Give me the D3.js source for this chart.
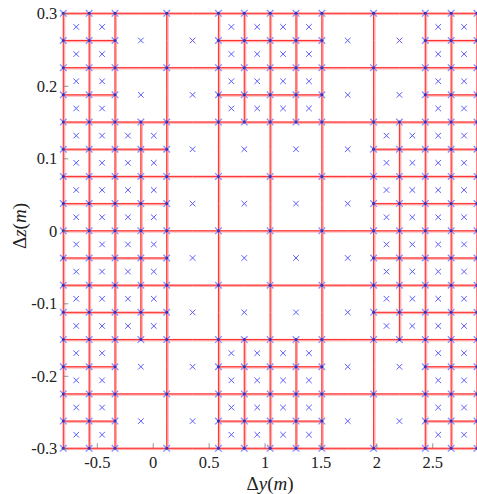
<!DOCTYPE html>
<html>
<head>
<meta charset="utf-8">
<script src="https://cdn.jsdelivr.net/npm/d3@7/dist/d3.min.js"></script>
<style>
  html, body { margin: 0; padding: 0; background: #fff; }
  svg { display: block; }
</style>
</head>
<body>
<svg id="chart" width="477" height="494"></svg>
<script>
// ---- data ----
// fine-grid boundaries along Δy (m), 16 columns
const yEdges = [-0.8, -0.56875, -0.3375, -0.10625, 0.125, 0.35625, 0.5875, 0.81875,
                1.05, 1.28125, 1.5125, 1.74375, 1.975, 2.20625, 2.4375, 2.66875, 2.9];
// fine-grid boundaries along Δz (m), 16 rows from top
const zEdges = [0.3, 0.2625, 0.225, 0.1875, 0.15, 0.1125, 0.075, 0.0375, 0,
                -0.0375, -0.075, -0.1125, -0.15, -0.1875, -0.225, -0.2625, -0.3];
// 8x8 map of 2x2 blocks: 1 = refined into four fine cells, 0 = one coarse cell
const refined = [
  "10011001",
  "10011001",
  "11000011",
  "11000011",
  "11000011",
  "11000011",
  "10011001",
  "10011001"
];
const xTicks = [-0.5, 0, 0.5, 1, 1.5, 2, 2.5];
const xTickLabels = ["-0.5", "0", "0.5", "1", "1.5", "2", "2.5"];
const zTicks = [-0.3, -0.2, -0.1, 0, 0.1, 0.2, 0.3];
const zTickLabels = ["-0.3", "-0.2", "-0.1", "0", "0.1", "0.2", "0.3"];

// ---- layout ----
const FONT = '"Liberation Serif", "Times New Roman", Times, serif';
const svg = d3.select("#chart");
const x = d3.scaleLinear().domain([yEdges[0], yEdges[16]]).range([63.3, 477]);
const y = d3.scaleLinear().domain([zEdges[16], zEdges[0]]).range([448.3, 13.3]);

// build cells (column index, row index, size in fine units)
const cells = [];
refined.forEach((rowStr, bi) => {
  rowStr.split("").forEach((ch, bj) => {
    if (ch === "1") {
      for (let dr = 0; dr < 2; dr++)
        for (let dc = 0; dc < 2; dc++)
          cells.push({c: 2 * bj + dc, r: 2 * bi + dr, s: 1});
    } else {
      cells.push({c: 2 * bj, r: 2 * bi, s: 2});
    }
  });
});

// unit edge segments (deduplicated) and vertices
const segMap = new Map();
const vtxMap = new Map();
cells.forEach(d => {
  const {c, r, s} = d;
  for (let k = 0; k < s; k++) {
    [[c + k, r, c + k + 1, r], [c + k, r + s, c + k + 1, r + s],
     [c, r + k, c, r + k + 1], [c + s, r + k, c + s, r + k + 1]].forEach(e => {
      segMap.set(e.join(","), e);
    });
  }
  [[c, r], [c + s, r], [c, r + s], [c + s, r + s]].forEach(v => vtxMap.set(v.join(","), v));
});
const segs = Array.from(segMap.values());
const vtxs = Array.from(vtxMap.values());

const g = svg.append("g");

// halo lines
g.append("g").selectAll("line").data(segs).join("line")
  .attr("x1", d => x(yEdges[d[0]]) + (d[0] === d[2] ? 0.7 : 0))
  .attr("x2", d => x(yEdges[d[2]]) + (d[0] === d[2] ? 0.7 : 0))
  .attr("y1", d => y(zEdges[d[1]]) + (d[1] === d[3] ? 0.5 : 0))
  .attr("y2", d => y(zEdges[d[3]]) + (d[1] === d[3] ? 0.5 : 0))
  .attr("stroke", "#ff9a9a")
  .attr("stroke-width", 2.6)
  .attr("opacity", 0.8);

// core lines
g.append("g").selectAll("line").data(segs).join("line")
  .attr("x1", d => x(yEdges[d[0]]))
  .attr("x2", d => x(yEdges[d[2]]))
  .attr("y1", d => y(zEdges[d[1]]))
  .attr("y2", d => y(zEdges[d[3]]))
  .attr("stroke", "#ff3030")
  .attr("stroke-width", 1);

// cell-centre markers
const xs = 2.8;
g.append("g").selectAll("path").data(cells).join("path")
  .attr("transform", d => {
    const cx = (x(yEdges[d.c]) + x(yEdges[d.c + d.s])) / 2;
    const cy = (y(zEdges[d.r]) + y(zEdges[d.r + d.s])) / 2;
    return `translate(${cx},${cy})`;
  })
  .attr("d", `M${-xs},${-xs}L${xs},${xs}M${xs},${-xs}L${-xs},${xs}`)
  .attr("stroke", "#5c5cff")
  .attr("stroke-width", 1)
  .attr("fill", "none");

// vertex markers
const vs = 3.3;
const vg = g.append("g").selectAll("g").data(vtxs).join("g")
  .attr("transform", d => `translate(${x(yEdges[d[0]])},${y(zEdges[d[1]])})`);
vg.append("path")
  .attr("d", `M${-vs},${-vs}L${vs},${vs}M${vs},${-vs}L${-vs},${vs}`)
  .attr("stroke", "#8c8cff")
  .attr("stroke-width", 1.3)
  .attr("fill", "none");
vg.append("circle").attr("r", 1.5).attr("fill", "#3a2fb0");

// axes (inward ticks)
const xAxis = d3.axisBottom(x).tickValues(xTicks)
  .tickFormat((d, i) => xTickLabels[i]).tickSizeInner(-5).tickSizeOuter(0).tickPadding(8);
const gx = svg.append("g").attr("transform", "translate(0,448.3)").call(xAxis);
gx.select(".domain").remove();
gx.selectAll("line").attr("stroke", "#777").attr("stroke-width", 0.8);
gx.selectAll("text").style("font-family", FONT).style("font-size", "16.5px").attr("fill", "#222");

const zAxis = d3.axisLeft(y).tickValues(zTicks)
  .tickFormat((d, i) => zTickLabels[i]).tickSizeInner(-5).tickSizeOuter(0).tickPadding(6);
const gy = svg.append("g").attr("transform", "translate(63.3,0)").call(zAxis);
gy.select(".domain").remove();
gy.selectAll("line").attr("stroke", "#777").attr("stroke-width", 0.8);
gy.selectAll("text").style("font-family", FONT).style("font-size", "16.5px").attr("fill", "#222");

// axis titles
function title(sel, letter) {
  sel.style("font-family", FONT).style("font-size", "19px").attr("fill", "#222")
    .attr("text-anchor", "middle");
  sel.append("tspan").text("Δ");
  sel.append("tspan").style("font-style", "italic").text(letter);
  sel.append("tspan").text("(");
  sel.append("tspan").style("font-style", "italic").text("m");
  sel.append("tspan").text(")");
}
title(svg.append("text").attr("x", 270).attr("y", 489.5), "y");
title(svg.append("text").attr("transform", "translate(26,226) rotate(-90)"), "z");
</script>
</body>
</html>
